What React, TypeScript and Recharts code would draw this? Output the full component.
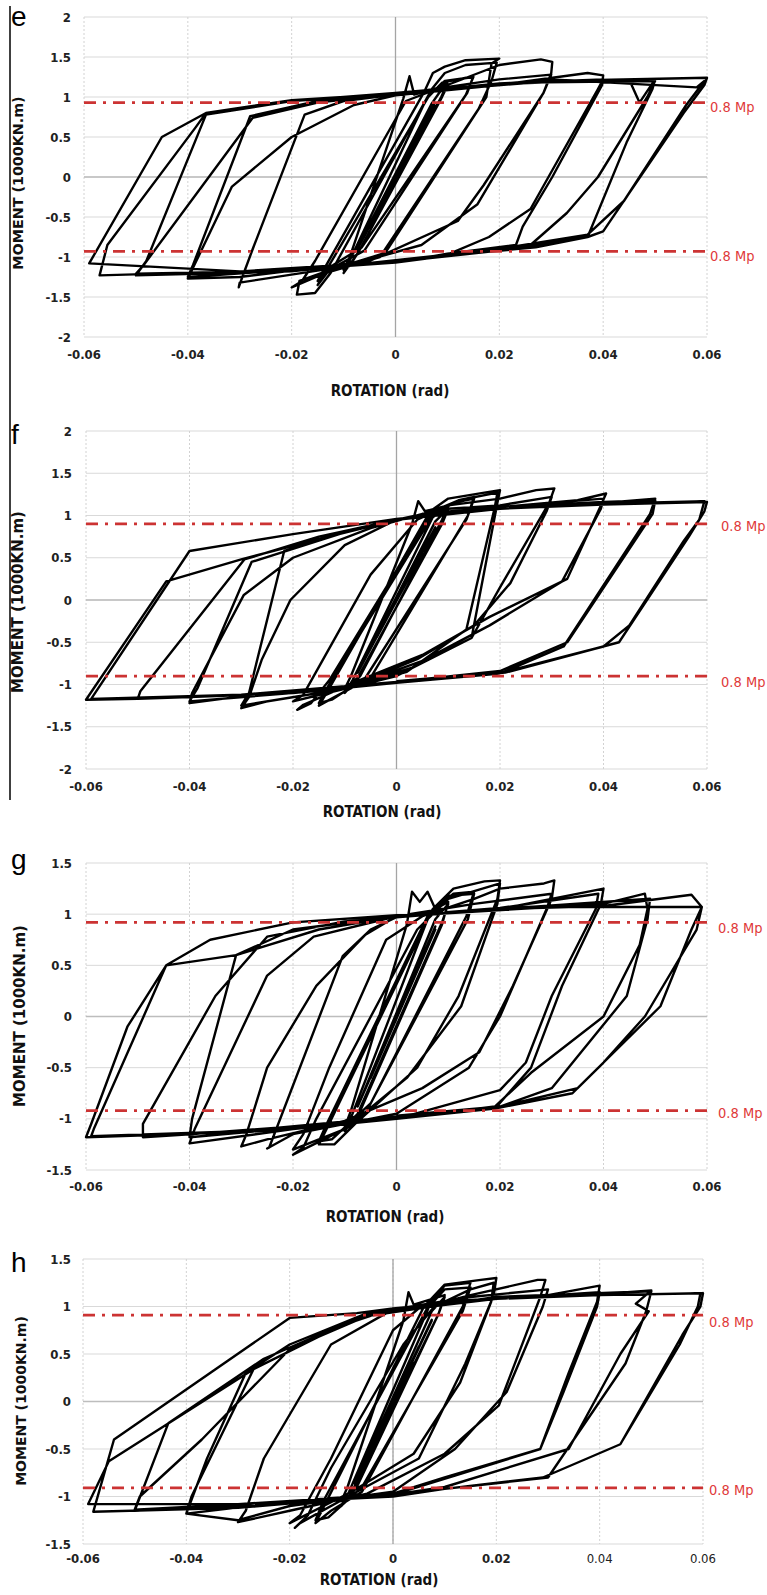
import React from "react";
import {
  LineChart,
  Line,
  XAxis,
  YAxis,
  CartesianGrid,
  ReferenceLine,
} from "recharts";

type Pt = [number, number];

// axis ticks
const rotationTicks = [-0.06, -0.04, -0.02, 0, 0.02, 0.04, 0.06];
const momentTicksWide = [-2, -1.5, -1, -0.5, 0, 0.5, 1, 1.5, 2];
const momentTicksNarrow = [-1.5, -1, -0.5, 0, 0.5, 1, 1.5];

// 0.8 Mp level of each specimen (1000 kN.m)
const mpE = 0.93;
const mpF = 0.9;
const mpG = 0.92;
const mpH = 0.91;

// hysteresis paths, [rotation (rad), moment (1000 kN.m)] in loading order
const loopE: Pt[] = [
  [0, 0],
  [0.0038, 0.44], [-0.0038, -0.46], [0.0038, 0.46], [-0.0038, -0.45],
  [0.005, 0.6], [-0.005, -0.62], [0.005, 0.62], [-0.005, -0.6],
  [0.0075, 0.9], [-0.0075, -0.92], [0.0075, 0.93], [-0.0075, -0.9],
  [0.007, 0.92], [0.0085, 1.06], [0.01, 1.14], [0.0088, 0.98], [-0.0068, -0.9], [-0.0085, -1.08], [-0.01, -1.16],
  [-0.0088, -1.0], [0.0015, 0.98], [0.0027, 1.26], [0.0036, 1.03], [0.0075, 1.1], [0.01, 1.17], [0.0088, 1.0], [-0.0072, -0.95], [-0.01, -1.2],
  [-0.0085, -1.0], [0.006, 0.98], [0.009, 1.18], [0.015, 1.26], [0.0138, 1.05], [-0.0065, -0.88], [-0.012, -1.1], [-0.015, -1.35],
  [-0.0132, -1.15], [0.0065, 1.02], [0.0095, 1.2], [0.015, 1.25], [0.0135, 1.02], [-0.006, -0.92], [-0.0125, -1.15], [-0.015, -1.3],
  [-0.0135, -1.12], [0.0055, 1.06], [0.0072, 1.3], [0.0095, 1.38], [0.0135, 1.46], [0.02, 1.48], [0.0185, 1.42], [0.0175, 1.0], [-0.002, -0.95], [-0.012, -1.15], [-0.0185, -1.3], [-0.019, -1.47],
  [-0.0155, -1.45], [-0.0125, -1.2], [0.007, 1.1], [0.0095, 1.3], [0.0135, 1.4], [0.0195, 1.43], [0.0185, 1.2], [0.016, 0.85], [-0.003, -1.0], [-0.0135, -1.2], [-0.02, -1.38],
  [-0.018, -1.3], [-0.0155, -1.05], [0.002, 0.95], [0.01, 1.15], [0.02, 1.4], [0.028, 1.47], [0.0302, 1.44], [0.03, 1.3], [0.0285, 1.05], [0.0158, -0.34], [0.005, -0.85], [-0.01, -1.12], [-0.03, -1.32], [-0.0302, -1.38],
  [-0.0295, -1.25], [-0.0275, -0.9], [-0.0175, 0.78], [-0.01, 0.95], [0, 1.03], [0.02, 1.22], [0.03, 1.28], [0.0285, 1.05], [0.017, -0.1], [0.012, -0.55], [-0.005, -1.05], [-0.03, -1.25],
  [-0.04, -1.27], [-0.038, -1.0], [-0.0315, -0.12], [-0.02, 0.5], [-0.008, 0.9], [0, 1.02], [0.02, 1.15], [0.037, 1.3], [0.04, 1.27], [0.0398, 1.15], [0.0302, 0.0], [0.0245, -0.62], [0.0232, -0.85], [0.01, -0.96], [0, -1.07], [-0.02, -1.16], [-0.04, -1.25],
  [-0.039, -1.1], [-0.028, 0.76], [-0.015, 0.95], [0, 1.04], [0.02, 1.17], [0.04, 1.22], [0.039, 1.1], [0.026, -0.4], [0.018, -0.75], [0.01, -0.97], [-0.02, -1.18], [-0.05, -1.23],
  [-0.048, -1.05], [-0.0365, 0.78], [-0.02, 0.95], [0, 1.04], [0.02, 1.16], [0.04, 1.21], [0.045, 1.22], [0.047, 0.93], [0.05, 1.22], [0.0495, 1.1], [0.0445, 0.43], [0.037, -0.75], [0.027, -0.88], [0.01, -0.98], [-0.02, -1.17], [-0.05, -1.21],
  [-0.0485, -1.1], [-0.0275, 0.74], [-0.015, 0.93], [0, 1.04], [0.025, 1.18], [0.05, 1.2], [0.0485, 1.0], [0.039, 0.0], [0.033, -0.45], [0.026, -0.85], [0, -1.07], [-0.03, -1.18], [-0.059, -1.08],
  [-0.045, 0.5], [-0.0365, 0.8], [-0.02, 0.96], [0, 1.04], [0.03, 1.2], [0.06, 1.24], [0.0595, 1.15], [0.0555, 0.8], [0.04, -0.68], [0.037, -0.75], [0.02, -0.92], [0, -1.06], [-0.03, -1.18], [-0.057, -1.23],
  [-0.0555, -0.85], [-0.0385, 0.62], [-0.0365, 0.8], [-0.02, 0.95], [0, 1.05], [0.03, 1.22], [0.058, 1.12], [0.0595, 1.2], [0.056, 0.9], [0.044, -0.3], [0.037, -0.72], [0.02, -0.9], [0, -1.05],
];

const loopF: Pt[] = [
  [0, 0],
  [0.0038, 0.42], [-0.0038, -0.44], [0.0038, 0.43], [-0.0038, -0.43],
  [0.005, 0.55], [-0.005, -0.57], [0.005, 0.57], [-0.005, -0.56],
  [0.0075, 0.85], [-0.0075, -0.85], [0.0075, 0.86], [-0.0075, -0.86],
  [0.0075, 0.93], [0.01, 1.08], [0.0088, 0.9], [-0.0075, -0.92], [-0.01, -1.05],
  [-0.0088, -0.9], [0.003, 0.9], [0.0042, 1.17], [0.0055, 1.05], [0.01, 1.12], [0.0088, 0.95], [-0.007, -0.9], [-0.01, -1.1],
  [-0.0085, -0.95], [0.007, 0.98], [0.011, 1.15], [0.015, 1.2], [0.0135, 0.95], [-0.006, -0.92], [-0.0125, -1.18], [-0.015, -1.22],
  [-0.0135, -1.05], [0.007, 1.0], [0.012, 1.18], [0.015, 1.22], [0.0138, 1.0], [-0.005, -0.92], [-0.012, -1.15], [-0.015, -1.25],
  [-0.0135, -1.1], [0.0065, 1.05], [0.01, 1.2], [0.017, 1.27], [0.02, 1.3], [0.0195, 1.15], [0.0145, -0.45], [0.0, -0.9], [-0.012, -1.08], [-0.018, -1.24], [-0.0192, -1.3],
  [-0.0165, -1.22], [-0.013, -0.95], [0.007, 1.05], [0.012, 1.18], [0.0195, 1.27], [0.019, 1.1], [0.0135, -0.35], [0.002, -0.85], [-0.01, -1.05], [-0.02, -1.2],
  [-0.018, -1.12], [-0.005, 0.3], [0.004, 0.95], [0.01, 1.12], [0.02, 1.2], [0.027, 1.3], [0.0305, 1.32], [0.0295, 1.15], [0.02, 0.15], [0.0145, -0.45], [0.003, -0.8], [-0.01, -1.05], [-0.025, -1.2], [-0.03, -1.28],
  [-0.0285, -1.15], [-0.026, -0.7], [-0.0205, 0.0], [-0.01, 0.65], [0.0, 0.95], [0.01, 1.08], [0.02, 1.12], [0.03, 1.22], [0.029, 1.05], [0.022, 0.2], [0.015, -0.3], [0.004, -0.7], [-0.01, -1.05], [-0.03, -1.25],
  [-0.0285, -1.1], [-0.0217, 0.58], [-0.01, 0.8], [0, 0.95], [0.02, 1.1], [0.035, 1.18], [0.0405, 1.26], [0.0395, 1.12], [0.033, 0.25], [0.018, -0.2], [0.005, -0.65], [-0.01, -1.02], [-0.03, -1.14], [-0.04, -1.22],
  [-0.0395, -1.1], [-0.0295, 0.06], [-0.02, 0.5], [-0.005, 0.85], [0.005, 1.02], [0.02, 1.1], [0.04, 1.2], [0.0395, 1.08], [0.032, 0.22], [0.018, -0.3], [0.005, -0.72], [-0.01, -1.05], [-0.04, -1.2],
  [-0.0385, -1.05], [-0.028, 0.45], [-0.01, 0.8], [0, 0.95], [0.02, 1.1], [0.04, 1.15], [0.05, 1.2], [0.049, 1.02], [0.0323, -0.55], [0.02, -0.87], [0, -0.98], [-0.02, -1.1], [-0.04, -1.15], [-0.05, -1.17],
  [-0.0495, -1.08], [-0.0294, 0.48], [-0.015, 0.75], [0, 0.95], [0.02, 1.1], [0.04, 1.16], [0.05, 1.18], [0.0495, 1.02], [0.033, -0.5], [0.02, -0.84], [0, -0.97], [-0.02, -1.1], [-0.05, -1.17], [-0.06, -1.18],
  [-0.0445, 0.22], [-0.03, 0.48], [-0.015, 0.72], [0, 0.95], [0.02, 1.08], [0.04, 1.13], [0.06, 1.16], [0.0595, 1.05], [0.0565, 0.75], [0.043, -0.5], [0.021, -0.86], [0, -0.97], [-0.03, -1.12], [-0.059, -1.17],
  [-0.04, 0.58], [-0.02, 0.78], [0, 0.96], [0.02, 1.08], [0.04, 1.14], [0.0595, 1.17], [0.0585, 0.95], [0.0555, 0.7], [0.045, -0.3], [0.04, -0.55], [0.021, -0.85], [0, -0.96],
];

const loopG: Pt[] = [
  [0, 0],
  [0.0038, 0.45], [-0.0038, -0.45], [0.0038, 0.46], [-0.0038, -0.46],
  [0.005, 0.58], [-0.005, -0.6], [0.005, 0.6], [-0.005, -0.6],
  [0.0075, 0.85], [-0.0075, -0.88], [0.0075, 0.88], [-0.0075, -0.88],
  [0.0075, 0.95], [0.01, 1.1], [0.0088, 0.92], [-0.0075, -0.95], [-0.01, -1.08],
  [-0.0088, -0.92], [0.002, 0.9], [0.003, 1.22], [0.0045, 1.12], [0.006, 1.22], [0.0075, 1.05], [0.01, 1.12], [0.0088, 0.9], [-0.007, -0.92], [-0.01, -1.12],
  [-0.0085, -0.95], [0.006, 0.95], [0.01, 1.18], [0.015, 1.2], [0.0138, 0.95], [-0.005, -0.85], [-0.0125, -1.2], [-0.015, -1.22],
  [-0.0135, -1.05], [0.006, 0.98], [0.011, 1.2], [0.015, 1.22], [0.0135, 0.98], [-0.006, -0.95], [-0.012, -1.25], [-0.015, -1.25],
  [-0.0135, -1.1], [0.007, 1.05], [0.011, 1.25], [0.017, 1.32], [0.02, 1.33], [0.0195, 1.15], [0.012, 0.2], [0.004, -0.5], [-0.008, -1.05], [-0.016, -1.25], [-0.02, -1.35],
  [-0.018, -1.28], [-0.0155, -1.0], [0.004, 0.85], [0.01, 1.15], [0.02, 1.3], [0.0195, 1.1], [0.0125, 0.1], [0.002, -0.6], [-0.01, -1.1], [-0.02, -1.3],
  [-0.018, -1.15], [-0.013, -0.5], [-0.002, 0.75], [0.005, 0.98], [0.015, 1.15], [0.02, 1.25], [0.0285, 1.3], [0.0305, 1.33], [0.03, 1.15], [0.0225, 0.3], [0.016, -0.35], [0.005, -0.7], [-0.01, -1.02], [-0.025, -1.2], [-0.03, -1.27],
  [-0.029, -1.15], [-0.025, -0.5], [-0.0155, 0.3], [-0.006, 0.8], [0, 0.98], [0.015, 1.1], [0.03, 1.2], [0.029, 1.05], [0.02, 0.0], [0.014, -0.5], [0, -0.95], [-0.02, -1.15], [-0.025, -1.29],
  [-0.0246, -1.28], [-0.0104, 0.59], [-0.005, 0.85], [0, 0.97], [0.02, 1.05], [0.04, 1.25], [0.0395, 1.1], [0.032, 0.3], [0.026, -0.5], [0.019, -0.9], [0, -1.0], [-0.02, -1.1], [-0.04, -1.24],
  [-0.039, -1.1], [-0.025, 0.4], [-0.016, 0.78], [0, 0.98], [0.02, 1.06], [0.039, 1.2], [0.0385, 1.05], [0.03, 0.2], [0.025, -0.45], [0.02, -0.72], [0, -1.0], [-0.04, -1.18],
  [-0.0395, -1.0], [-0.031, 0.6], [-0.02, 0.85], [0, 0.98], [0.02, 1.06], [0.04, 1.1], [0.048, 1.2], [0.0485, 1.05], [0.047, 0.7], [0.04, 0.0], [0.026, -0.55], [0.019, -0.88], [0, -1.0], [-0.04, -1.15], [-0.049, -1.18],
  [-0.049, -1.05], [-0.035, 0.2], [-0.025, 0.78], [-0.01, 0.93], [0.02, 1.05], [0.049, 1.15], [0.0485, 0.95], [0.0445, 0.2], [0.03, -0.7], [0.02, -0.88], [0, -0.98], [-0.03, -1.13], [-0.06, -1.18],
  [-0.059, -1.05], [-0.052, -0.1], [-0.0445, 0.5], [-0.036, 0.75], [-0.02, 0.92], [0, 0.99], [0.02, 1.05], [0.04, 1.08], [0.057, 1.19], [0.059, 1.07], [0.057, 0.85], [0.051, 0.1], [0.034, -0.75], [0.019, -0.9], [0, -0.98], [-0.03, -1.12], [-0.059, -1.17],
  [-0.0585, -1.1], [-0.0445, 0.5], [-0.031, 0.6], [-0.015, 0.85], [0, 0.98], [0.03, 1.07], [0.059, 1.07], [0.058, 0.85], [0.048, 0.0], [0.04, -0.45], [0.035, -0.7], [0.02, -0.88], [0, -0.97],
];

const loopH: Pt[] = [
  [0, 0],
  [0.0038, 0.42], [-0.0038, -0.44], [0.0038, 0.43], [-0.0038, -0.43],
  [0.005, 0.57], [-0.005, -0.58], [0.005, 0.58], [-0.005, -0.58],
  [0.0075, 0.85], [-0.0075, -0.86], [0.0075, 0.86], [-0.0075, -0.86],
  [0.0075, 0.95], [0.01, 1.1], [0.0088, 0.92], [-0.0075, -0.9], [-0.01, -1.05],
  [-0.0088, -0.9], [0.002, 0.85], [0.003, 1.15], [0.004, 1.02], [0.01, 1.12], [0.0088, 0.92], [-0.007, -0.9], [-0.01, -1.1],
  [-0.0085, -0.95], [0.007, 1.0], [0.01, 1.18], [0.015, 1.2], [0.0135, 0.95], [-0.006, -0.9], [-0.0125, -1.22], [-0.015, -1.25],
  [-0.0135, -1.05], [0.007, 1.02], [0.01, 1.22], [0.015, 1.25], [0.0135, 1.0], [-0.006, -0.95], [-0.012, -1.15], [-0.015, -1.28],
  [-0.0135, -1.12], [0.006, 1.0], [0.01, 1.23], [0.017, 1.28], [0.02, 1.3], [0.0195, 1.12], [0.014, 0.4], [0.005, -0.6], [-0.007, -0.95], [-0.018, -1.28], [-0.019, -1.33],
  [-0.0165, -1.2], [-0.012, -0.7], [0.002, 0.6], [0.008, 1.0], [0.015, 1.18], [0.0195, 1.25], [0.019, 1.05], [0.013, 0.2], [0.004, -0.55], [-0.008, -0.95], [-0.02, -1.28],
  [-0.018, -1.2], [-0.012, -0.6], [0.0, 0.75], [0.005, 0.98], [0.015, 1.12], [0.028, 1.28], [0.0295, 1.28], [0.0285, 1.1], [0.0205, -0.04], [0.01, -0.55], [-0.005, -0.97], [-0.02, -1.15], [-0.03, -1.27],
  [-0.0285, -1.15], [-0.025, -0.6], [-0.012, 0.6], [0, 0.97], [0.015, 1.1], [0.03, 1.18], [0.029, 1.0], [0.022, 0.1], [0.012, -0.5], [0, -0.95], [-0.02, -1.1], [-0.03, -1.25],
  [-0.04, -1.18], [-0.036, -0.6], [-0.0285, 0.3], [-0.02, 0.6], [-0.005, 0.93], [0.01, 1.05], [0.03, 1.12], [0.04, 1.22], [0.0395, 1.05], [0.034, 0.3], [0.0285, -0.5], [0.01, -0.8], [0, -0.97], [-0.02, -1.05], [-0.04, -1.18],
  [-0.039, -1.0], [-0.027, 0.34], [-0.01, 0.8], [0, 0.98], [0.02, 1.08], [0.04, 1.15], [0.0395, 1.0], [0.033, 0.1], [0.0285, -0.5], [0.012, -0.78], [0, -0.98], [-0.03, -1.1], [-0.05, -1.15],
  [-0.0435, -0.23], [-0.025, 0.45], [-0.005, 0.92], [0.02, 1.08], [0.04, 1.13], [0.05, 1.17], [0.047, 1.03], [0.0495, 0.95], [0.044, 0.5], [0.034, -0.5], [0.01, -0.9], [0, -0.98], [-0.03, -1.08], [-0.05, -1.14],
  [-0.049, -1.0], [-0.037, -0.4], [-0.02, 0.55], [-0.005, 0.9], [0.02, 1.1], [0.05, 1.16], [0.049, 0.95], [0.045, 0.4], [0.03, -0.8], [0.01, -0.92], [0, -1.0], [-0.03, -1.08], [-0.059, -1.08],
  [-0.055, -0.63], [-0.027, 0.34], [-0.01, 0.8], [0, 0.98], [0.02, 1.08], [0.04, 1.12], [0.06, 1.14], [0.0595, 1.0], [0.056, 0.7], [0.044, -0.45], [0.029, -0.8], [0.01, -0.92], [0, -0.98], [-0.03, -1.12], [-0.058, -1.16],
  [-0.054, -0.4], [-0.02, 0.88], [-0.007, 0.93], [0, 0.98], [0.02, 1.08], [0.04, 1.12], [0.0595, 1.14], [0.059, 1.0], [0.0555, 0.6], [0.044, -0.45], [0.029, -0.8], [0.01, -0.92], [0, -0.98],
];

const RED = "#cc3333";
const CONDENSED = "'DejaVu Sans Condensed', 'Liberation Sans Narrow', 'DejaVu Sans', sans-serif";
const WIDE = "'DejaVu Sans', Verdana, sans-serif";

type PanelCfg = {
  letter: string;
  loop: Pt[];
  mp: number;
  top: number;
  bottom: number;
  left: number;
  right: number;
  domain: [number, number];
  yTicks: number[];
  xTickMargin: number;
  yTickMargin: number;
  titleX: number;
  titleY: number;
  yTitleX: number;
  yTitleY: number;
  yTitleSize: number;
  mpDx: number;
  mpDyTop: number;
  mpDyBottom: number;
  letterY: number;
  lightTicks: number[];
};

const panels: PanelCfg[] = [
  {
    letter: "e", loop: loopE, mp: mpE, top: 17, bottom: 337, left: 84, right: 707,
    domain: [-2, 2], yTicks: momentTicksWide, xTickMargin: 13, yTickMargin: 13,
    titleX: 390, titleY: 391, yTitleX: 18, yTitleY: 183, yTitleSize: 14.3,
    mpDx: 3, mpDyTop: 4.5, mpDyBottom: 4.5, letterY: 26, lightTicks: [],
  },
  {
    letter: "f", loop: loopF, mp: mpF, top: 431, bottom: 769, left: 86, right: 707,
    domain: [-2, 2], yTicks: momentTicksWide, xTickMargin: 13, yTickMargin: 14,
    titleX: 382, titleY: 812, yTitleX: 18, yTitleY: 602, yTitleSize: 15,
    mpDx: 14, mpDyTop: 2, mpDyBottom: 6, letterY: 444, lightTicks: [],
  },
  {
    letter: "g", loop: loopG, mp: mpG, top: 863, bottom: 1170, left: 86, right: 707,
    domain: [-1.5, 1.5], yTicks: momentTicksNarrow, xTickMargin: 12, yTickMargin: 14,
    titleX: 385, titleY: 1217, yTitleX: 20, yTitleY: 1016, yTitleSize: 15,
    mpDx: 11, mpDyTop: 5.5, mpDyBottom: 2, letterY: 869, lightTicks: [],
  },
  {
    letter: "h", loop: loopH, mp: mpH, top: 1259, bottom: 1544, left: 83, right: 703,
    domain: [-1.5, 1.5], yTicks: momentTicksNarrow, xTickMargin: 10, yTickMargin: 12,
    titleX: 379, titleY: 1580, yTitleX: 21, yTitleY: 1401, yTitleSize: 14,
    mpDx: 6, mpDyTop: 7, mpDyBottom: 2, letterY: 1272, lightTicks: [0.04, 0.06],
  },
];

function Panel({ cfg }: { cfg: PanelCfg }) {
  const data = cfg.loop.map(([x, y]) => ({ x, y }));
  const chartTop = cfg.top - 10;
  const xAxisH = cfg.titleY + 14 - cfg.bottom;
  const height = 10 + (cfg.bottom - cfg.top) + xAxisH;

  const renderXTick = (p: any) => {
    const v = p.payload.value;
    const light = cfg.lightTicks.includes(v);
    return (
      <text
        x={p.x}
        y={p.y}
        dy="0.71em"
        textAnchor="middle"
        fill="#222"
        fontSize={13}
        fontWeight={light ? 400 : 700}
        fontFamily={CONDENSED}
      >
        {String(v)}
      </text>
    );
  };

  const mpLabel = (dy: number) => (p: any) => {
    const vb = p.viewBox;
    return (
      <text
        x={vb.x + vb.width + cfg.mpDx}
        y={vb.y + dy}
        dominantBaseline="central"
        fill="#e03a3a"
        fontSize={14.5}
        fontFamily={CONDENSED}
      >
        0.8 Mp
      </text>
    );
  };

  const xTitle = () => (
    <text
      x={cfg.titleX}
      y={cfg.titleY - chartTop}
      dominantBaseline="central"
      textAnchor="middle"
      fill="#111"
      fontSize={15}
      fontWeight={700}
      fontFamily={CONDENSED}
    >
      ROTATION (rad)
    </text>
  );

  const yTitle = () => {
    const cx = cfg.yTitleX;
    const cy = cfg.yTitleY - chartTop;
    return (
      <text
        x={cx}
        y={cy}
        transform={`rotate(-90 ${cx} ${cy})`}
        dominantBaseline="central"
        textAnchor="middle"
        fill="#111"
        fontSize={cfg.yTitleSize}
        fontWeight={700}
        fontFamily={WIDE}
      >
        MOMENT (1000KN.m)
      </text>
    );
  };

  return (
    <div style={{ position: "absolute", left: 0, top: chartTop }}>
      <LineChart
        width={767}
        height={height}
        margin={{ top: 10, right: 767 - cfg.right, bottom: 0, left: 0 }}
      >
        <CartesianGrid vertical={false} stroke="#d9d9d9" />
        <CartesianGrid horizontal={false} stroke="#d2d2d2" strokeDasharray="2 2" />
        <XAxis
          type="number"
          dataKey="x"
          domain={[-0.06, 0.06]}
          ticks={rotationTicks}
          interval={0}
          axisLine={false}
          tickLine={false}
          tickSize={0}
          tickMargin={cfg.xTickMargin}
          height={xAxisH}
          tick={renderXTick}
          label={xTitle}
        />
        <YAxis
          type="number"
          domain={cfg.domain}
          ticks={cfg.yTicks}
          interval={0}
          width={cfg.left}
          axisLine={false}
          tickLine={false}
          tickSize={0}
          tickMargin={cfg.yTickMargin}
          tick={{ fill: "#222", fontSize: 13, fontWeight: 700, fontFamily: CONDENSED }}
          tickFormatter={(v: number) => String(v)}
          label={yTitle}
        />
        <ReferenceLine y={0} stroke="#bdbdbd" strokeWidth={1.3} />
        <ReferenceLine x={0} stroke="#a5a5a5" strokeWidth={1.3} />
        <Line
          data={data}
          dataKey="y"
          type="linear"
          stroke="#000"
          strokeWidth={2.4}
          strokeLinejoin="round"
          dot={false}
          activeDot={false}
          isAnimationActive={false}
        />
        <ReferenceLine
          y={cfg.mp}
          stroke={RED}
          strokeWidth={2.8}
          strokeDasharray="12 7 3 7"
          label={mpLabel(cfg.mpDyTop)}
        />
        <ReferenceLine
          y={-cfg.mp}
          stroke={RED}
          strokeWidth={2.8}
          strokeDasharray="12 7 3 7"
          label={mpLabel(cfg.mpDyBottom)}
        />
      </LineChart>
    </div>
  );
}

export default function App() {
  return (
    <div
      style={{
        position: "absolute",
        left: 0,
        top: 0,
        width: 767,
        height: 1595,
        background: "#fff",
        overflow: "hidden",
      }}
    >
      {panels.map((cfg) => (
        <Panel key={cfg.letter} cfg={cfg} />
      ))}
      <svg
        width={767}
        height={1595}
        style={{ position: "absolute", left: 0, top: 0, pointerEvents: "none" }}
      >
        <line x1={10} y1={6} x2={10} y2={800} stroke="#000" strokeWidth={1.5} />
        {panels.map((cfg) => (
          <text
            key={cfg.letter}
            x={11}
            y={cfg.letterY}
            fontSize={28}
            fontFamily="'Liberation Sans', Arial, sans-serif"
            fill="#000"
          >
            {cfg.letter}
          </text>
        ))}
      </svg>
    </div>
  );
}
